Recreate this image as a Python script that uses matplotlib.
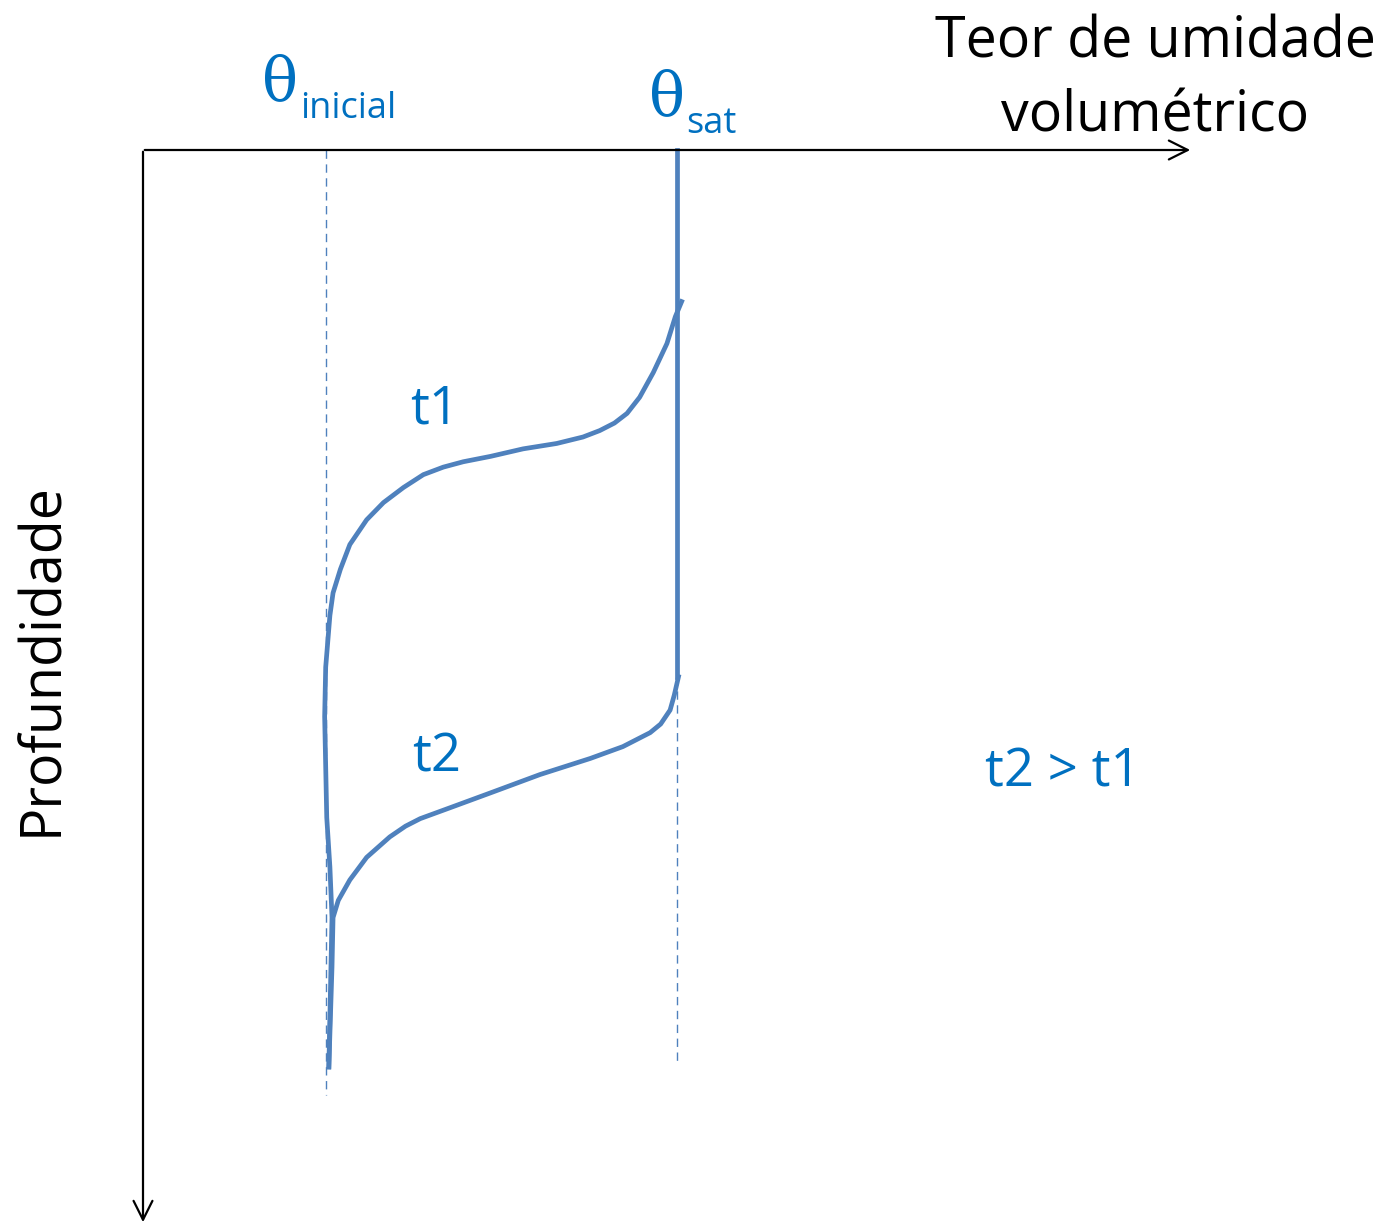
import numpy as np
import matplotlib.pyplot as plt

# eixos normalizados: theta (0-1) e profundidade (0-1)
theta_inicial = 0.174
theta_sat = 0.509
depth_frente_sat = 0.490  # fim da zona saturada em t2

# perfil t1 (theta, profundidade)
t1_theta = [0.513, 0.507, 0.499, 0.486, 0.473, 0.461, 0.449, 0.435, 0.419, 0.394,
            0.362, 0.331, 0.305, 0.286, 0.267, 0.248, 0.229, 0.213, 0.197, 0.188,
            0.181, 0.178, 0.174, 0.173, 0.174, 0.175, 0.178, 0.180, 0.179, 0.177]
t1_depth = [0.141, 0.155, 0.180, 0.207, 0.230, 0.245, 0.254, 0.261, 0.267, 0.273,
            0.278, 0.285, 0.290, 0.295, 0.302, 0.314, 0.328, 0.344, 0.367, 0.390,
            0.412, 0.433, 0.481, 0.527, 0.574, 0.621, 0.667, 0.714, 0.760, 0.853]

# perfil t2
t2_theta = [0.510, 0.506, 0.502, 0.493, 0.483, 0.457, 0.426, 0.378, 0.331, 0.292,
            0.264, 0.250, 0.235, 0.213, 0.197, 0.186, 0.181, 0.180, 0.177]
t2_depth = [0.490, 0.507, 0.521, 0.534, 0.542, 0.555, 0.566, 0.581, 0.598, 0.612,
            0.622, 0.629, 0.639, 0.658, 0.679, 0.698, 0.714, 0.760, 0.853]

azul = '#4f81bd'
azul_txt = '#0070c0'
plt.rcParams['font.family'] = ['Open Sans', 'DejaVu Sans']

fig = plt.figure(figsize=(13.88, 12.30), dpi=100)
ax = fig.add_axes([143/1388, 5/1230, 1050/1388, 1075/1230])
ax.set_xlim(0, 1)
ax.set_ylim(1, 0)
ax.axis('off')

# eixos com setas
seta = dict(arrowstyle='->', color='black', lw=1.6, mutation_scale=34)
ax.annotate('', xy=(1.0, 0), xytext=(-0.001, 0), arrowprops=seta, annotation_clip=False)
ax.annotate('', xy=(0, 1.0), xytext=(0, -0.001), arrowprops=seta, annotation_clip=False)

# linhas de referencia tracejadas
ax.plot([theta_inicial, theta_inicial], [0, 0.879], color=azul, lw=1.0,
        dashes=(6, 4), clip_on=False)
ax.plot([theta_sat, theta_sat], [depth_frente_sat, 0.851], color=azul, lw=1.0,
        dashes=(6, 4), clip_on=False)

# zona saturada
ax.plot([theta_sat, theta_sat], [0, depth_frente_sat], color=azul, lw=3.4, clip_on=False)

# perfis
ax.plot(t1_theta, t1_depth, color=azul, lw=3.4, solid_joinstyle='round', clip_on=False)
ax.plot(t2_theta, t2_depth, color=azul, lw=3.4, solid_joinstyle='round', clip_on=False)

# textos
ax.text(0.964, -0.065, 'Teor de umidade\nvolumétrico', ha='center', va='center',
        fontsize=40, linespacing=1.4, clip_on=False)
ax.text(-0.096, 0.474, 'Profundidade', rotation=90, ha='center', va='center',
        fontsize=40, clip_on=False)

ax.text(0.1475, -0.063, 'θ', family='DejaVu Serif', color=azul_txt,
        fontsize=43, ha='right', va='center', clip_on=False)
ax.text(0.1495, -0.030, 'inicial', color=azul_txt,
        fontsize=26, ha='left', va='baseline', clip_on=False)
ax.text(0.5162, -0.049, 'θ', family='DejaVu Serif', color=azul_txt,
        fontsize=43, ha='right', va='center', clip_on=False)
ax.text(0.5171, -0.016, 'sat', color=azul_txt,
        fontsize=26, ha='left', va='baseline', clip_on=False)

ax.text(0.278, 0.242, 't1', color=azul_txt, fontsize=38, ha='center', va='center')
ax.text(0.280, 0.565, 't2', color=azul_txt, fontsize=38, ha='center', va='center')
ax.text(0.876, 0.579, 't2 > t1', color=azul_txt, fontsize=38, ha='center', va='center')

plt.savefig('out.png', dpi=100)
